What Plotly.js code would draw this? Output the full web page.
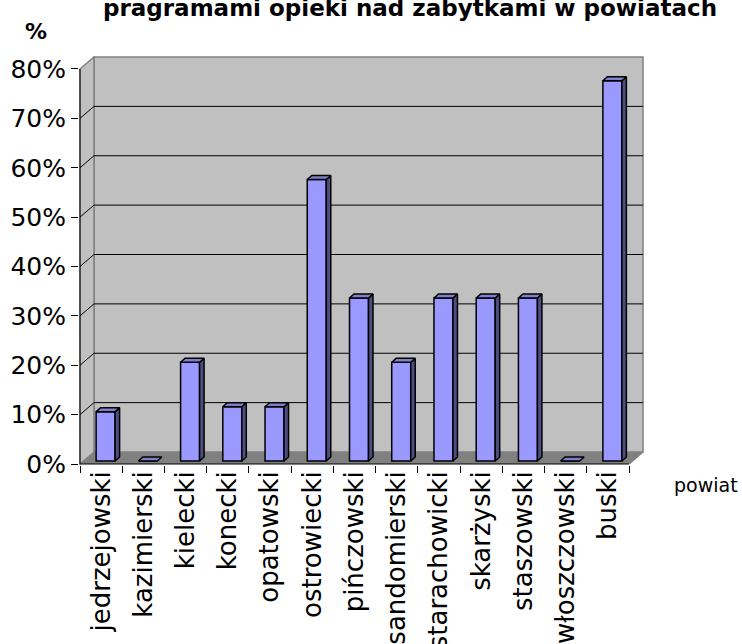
<!DOCTYPE html>
<html><head><meta charset="utf-8">
<script src="https://cdn.plot.ly/plotly-3.0.1.min.js"></script>
<style>html,body{margin:0;padding:0;background:#fff}#chart{width:742px;height:644px}</style>
</head><body><div id="chart"></div>
<script>
// ---- data ----
const categories = ['jedrzejowski','kazimierski','kielecki','konecki','opatowski','ostrowiecki','pińczowski','sandomierski','starachowicki','skarżyski','staszowski','włoszczowski','buski'];
const values = [10, 0, 20, 11, 11, 57, 33, 20, 33, 33, 33, 0, 77];
const yTickVals = [0, 10, 20, 30, 40, 50, 60, 70, 80];
const yTickText = ['0%','10%','20%','30%','40%','50%','60%','70%','80%'];
const titleText = 'pragramami opieki nad zabytkami w powiatach';
const yAxisLabel = '%';
const xAxisLabel = 'powiat';

// ---- geometry (pixels -> data units) ----
const W = 742, H = 644;
const frontLeftPx = 80, zeroPx = 464, catPx = 42.25, valPx = 4.94;
const DX = 14 / catPx, DY = 12 / valPx;          // wall depth
const barW = 19 / catPx, barOff = -5 / catPx, barBase = 3 / valPx;
const bdx = 4.5 / catPx, bdy = 4 / valPx;        // bar depth
const n = categories.length;
const yTop = yTickVals[yTickVals.length - 1];
const xMin = -0.5 - 1 / catPx, xMax = n - 0.5 + DX + 2 / catPx;
const yMin = -1 / valPx, yMax = yTop + DY + 1 / valPx;
const plotL = frontLeftPx + (xMin + 0.5) * catPx;
const plotR = frontLeftPx + (xMax + 0.5) * catPx;
const plotB = zeroPx - yMin * valPx;
const plotT = zeroPx - yMax * valPx;
const plotW = plotR - plotL, plotH = plotB - plotT;
const px2x = p => (p - plotL) / plotW;
const px2y = p => (plotB - p) / plotH;

const idx = categories.map((_, i) => i);
const FONT = 'DejaVu Sans, Liberation Sans, Arial, sans-serif';

// ---- faces ----
const sideX = [], sideY = [], topX = [], topY = [];
values.forEach((v, i) => {
  const xl = i + barOff, xr = xl + barW, b = barBase, t = barBase + v;
  if (v > 0) {
    sideX.push(xr, xr + bdx, xr + bdx, xr, xr, null);
    sideY.push(b, b + bdy, t + bdy, t, b, null);
  }
  topX.push(xl, xl + bdx, xr + bdx, xr, xl, null);
  topY.push(t, t + bdy, t + bdy, t, t, null);
});

const traces = [
  { type: 'bar', x: idx, y: values, base: barBase, width: barW, offset: barOff,
    marker: { color: '#9999FF', line: { color: '#000', width: 1.5 } }, hoverinfo: 'skip' },
  { type: 'scatter', mode: 'lines', x: sideX, y: sideY, fill: 'toself', fillcolor: '#4D4D80',
    line: { color: '#000', width: 1.5 }, hoverinfo: 'skip' },
  { type: 'scatter', mode: 'lines', x: topX, y: topY, fill: 'toself', fillcolor: '#7F7FCC',
    line: { color: '#000', width: 1.5 }, hoverinfo: 'skip' }
];

// ---- walls ----
const L = -0.5, R = n - 0.5;
const shapes = [
  { type: 'path', layer: 'below', path: `M${L},0 L${R},0 L${R + DX},${DY} L${L + DX},${DY} Z`,
    fillcolor: '#808080', line: { width: 0 } },
  { type: 'rect', layer: 'below', x0: L + DX, x1: R + DX, y0: DY, y1: yTop + DY,
    fillcolor: '#C0C0C0', line: { color: '#808080', width: 1.5 } },
  { type: 'path', layer: 'below', path: `M${L},0 L${L + DX},${DY} L${L + DX},${yTop + DY} L${L},${yTop} Z`,
    fillcolor: '#C0C0C0', line: { color: '#808080', width: 1.5 } }
];
yTickVals.forEach(v => {
  if (v > 0 && v < yTop) {
    shapes.push({ type: 'line', layer: 'below', x0: L + DX, x1: R + DX, y0: v + DY, y1: v + DY, line: { color: '#000', width: 1 } });
    shapes.push({ type: 'line', layer: 'below', x0: L, x1: L + DX, y0: v, y1: v + DY, line: { color: '#000', width: 1 } });
  }
});
shapes.push({ type: 'line', layer: 'above', x0: L, x1: L, y0: 0, y1: yTop, line: { color: '#000', width: 1 } });
shapes.push({ type: 'line', layer: 'above', x0: L, x1: R, y0: 0, y1: 0, line: { color: '#000', width: 1 } });
shapes.push({ type: 'line', layer: 'above', x0: R, x1: R + DX, y0: 0, y1: DY, line: { color: '#808080', width: 1.5 } });

const boundaries = [];
for (let i = 0; i <= n; i++) boundaries.push(i - 0.5);

const layout = {
  width: W, height: H,
  margin: { l: plotL, r: W - plotR, t: plotT, b: H - plotB, pad: 0, autoexpand: false },
  paper_bgcolor: '#fff', plot_bgcolor: 'rgba(0,0,0,0)',
  showlegend: false,
  title: { text: titleText, font: { family: FONT, size: 23, weight: 'bold', color: '#000' },
           xref: 'container', yref: 'container', x: 410 / W, xanchor: 'center', y: 1 - 8 / H, yanchor: 'middle' },
  xaxis: { range: [xMin, xMax], tickmode: 'array', tickvals: idx, ticktext: categories, tickangle: -90,
           ticks: '', showgrid: false, zeroline: false, showline: false,
           tickfont: { family: FONT, size: 26, color: '#000' },
           minor: { tickmode: 'array', tickvals: boundaries, ticks: 'outside', ticklen: 7, tickcolor: '#000', tickwidth: 1, showgrid: false } },
  yaxis: { range: [yMin, yMax], tickmode: 'array', tickvals: yTickVals, ticktext: yTickText,
           ticks: 'outside', ticklen: 7, tickcolor: '#000', tickwidth: 1,
           showgrid: false, zeroline: false, showline: false,
           tickfont: { family: FONT, size: 25, color: '#000' } },
  shapes: shapes,
  annotations: [
    { text: yAxisLabel, xref: 'paper', yref: 'paper', x: px2x(36), y: px2y(31), xanchor: 'center', yanchor: 'middle',
      showarrow: false, font: { family: FONT, size: 22, weight: 'bold', color: '#000' } },
    { text: xAxisLabel, xref: 'paper', yref: 'paper', x: px2x(706), y: px2y(485), xanchor: 'center', yanchor: 'middle',
      showarrow: false, font: { family: FONT, size: 19, color: '#000' } }
  ]
};

Plotly.newPlot('chart', traces, layout, { staticPlot: true, displayModeBar: false });
</script>
</body></html>
